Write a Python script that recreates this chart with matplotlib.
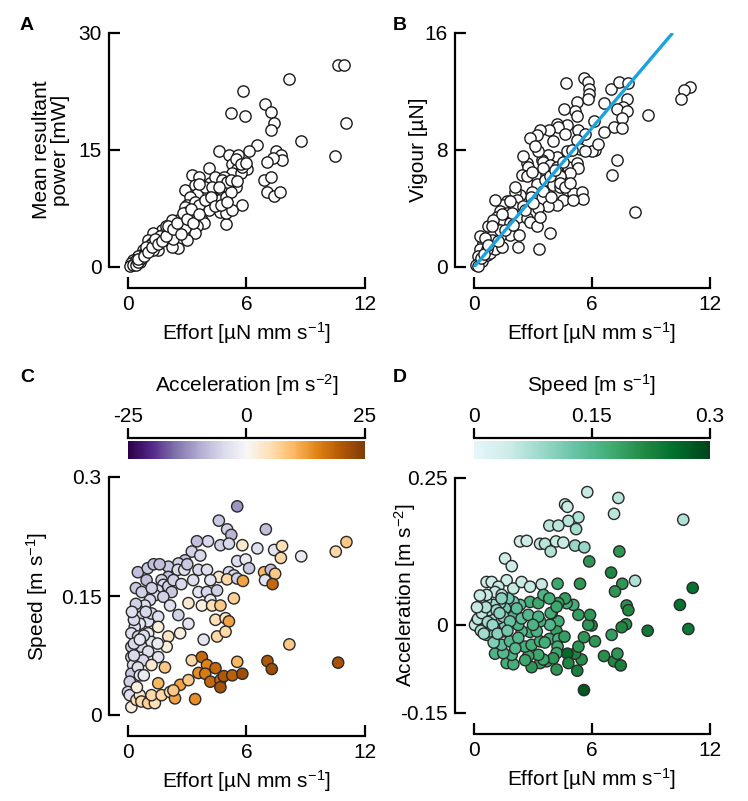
"""Effort vs power / vigour / speed / acceleration, four-panel scatter figure."""
import numpy as np
import matplotlib
matplotlib.use("Agg")
import matplotlib.pyplot as plt
from matplotlib.cm import ScalarMappable
from matplotlib.colors import Normalize, ListedColormap

FS = 15
plt.rcParams.update({
    "font.family": ["Liberation Sans", "DejaVu Sans"], "font.size": FS,
    "mathtext.fontset": "custom", "mathtext.rm": "Liberation Sans",
    "mathtext.default": "regular",
})

# ----- data -----
# A: effort [uN mm s-1] vs mean resultant power [mW]
effort_a = [10.64, 10.93, 8.15, 5.80, 6.94, 7.23, 5.23, 5.92, 11.06, 7.40,
            7.23, 8.77, 6.55, 6.13, 4.63, 5.11, 5.57, 10.5, 7.49, 7.74,
            7.80, 7.32, 7.06, 6.89, 7.23, 7.06, 7.40, 7.71, 5.75, 4.94,
            3.23, 3.57, 2.89, 4.12, 6.04, 5.28, 5.53, 5.28, 5.70, 5.36,
            5.45, 5.10, 4.77, 4.60, 4.17, 4.43, 4.85, 4.08, 3.83, 3.74,
            4.09, 4.51, 4.68, 4.94, 5.28, 3.40, 3.49, 3.15, 2.98, 3.40,
            3.32, 3.74, 3.83, 3.49, 3.40, 2.98, 3.15, 2.81, 2.55, 2.72,
            2.21, 2.13, 2.64, 2.55, 2.04, 2.21, 1.70, 1.87, 1.79, 1.28,
            1.45, 1.62, 1.02, 1.02, 1.53, 1.28, 0.77, 0.68, 0.51, 0.26,
            0.17, 0.09, 0.34, 0.43, 0.60, 0.85, 1.19, 2.04, 2.38, 2.89,
            3.15, 2.89, 3.74, 4.09, 4.34, 4.60, 4.94, 3.91, 3.57, 4.26,
            5.19, 5.79, 5.45, 5.70, 4.77, 5.02, 4.60, 0.26, 0.43, 0.51,
            1.10, 1.40, 1.90, 2.40, 0.90, 1.60, 2.30, 0.70, 3.00, 3.60,
            0.50, 0.80, 1.00, 1.20, 1.35, 1.50, 1.70, 1.90, 2.00, 2.30,
            2.50, 2.70, 2.80, 3.00, 3.20, 3.30, 3.60, 3.90, 4.20, 4.40,
            4.70, 5.00, 5.20, 5.50, 6.00]
power_a = [25.96, 25.96, 24.1, 22.5, 20.96, 19.9, 19.8, 19.3, 18.5, 18.45,
           17.5, 16.1, 15.6, 14.9, 14.9, 14.4, 14.4, 14.2, 14.9, 14.3,
           13.7, 14.0, 13.45, 11.1, 11.5, 9.6, 9.1, 9.6, 7.9, 5.5,
           11.75, 11.5, 9.9, 12.7, 12.6, 13.2, 12.6, 12.0, 12.0, 10.7,
           10.3, 9.85, 10.05, 9.4, 10.8, 11.5, 11.5, 9.4, 9.6, 8.35,
           8.15, 8.35, 7.1, 6.96, 7.3, 10.5, 9.4, 9.0, 7.9, 8.35,
           6.66, 6.0, 5.6, 5.26, 4.3, 3.5, 6.45, 6.45, 6.0, 5.6,
           6.0, 4.75, 4.75, 2.4, 3.5, 2.6, 4.75, 4.3, 3.7, 4.3,
           3.3, 3.5, 3.5, 2.4, 2.2, 2.2, 2.2, 1.6, 1.4, 0.93,
           0.5, 0.08, 0.5, 0.9, 0.7, 1.8, 3.05, 4.1, 4.3, 5.0,
           6.0, 7.7, 7.3, 7.3, 8.8, 8.6, 9.0, 10.3, 10.7, 10.3,
           9.6, 12.8, 13.9, 13.2, 11.1, 10.9, 10.3, 0.3, 0.3, 0.7,
           2.8, 2.9, 5.2, 5.3, 2.6, 4.0, 3.6, 1.1, 7.0, 8.0,
           1.0, 1.4, 1.9, 2.6, 3.6, 2.9, 3.3, 4.0, 5.2, 4.9,
           5.6, 4.2, 6.9, 6.2, 7.4, 5.7, 6.8, 8.6, 9.0, 7.8,
           8.0, 8.3, 11.2, 11.0, 13.3]

# B: effort vs vigour [uN], with fitted line
effort_b = [5.59, 5.81, 5.86, 5.86, 5.80, 4.68, 6.97, 7.37, 7.85, 7.80,
            7.59, 7.25, 7.76, 7.51, 7.12, 7.51, 6.61, 11.0, 10.68, 10.5,
            8.83, 6.10, 5.25, 5.14, 4.59, 5.22, 4.71, 4.20, 4.29, 3.83,
            3.36, 3.22, 2.85, 4.64, 5.31, 5.64, 5.22, 5.39, 6.15, 5.98,
            5.64, 4.71, 4.20, 3.78, 3.44, 3.27, 3.49, 3.86, 4.20, 4.80,
            5.22, 5.31, 4.88, 4.37, 7.25, 7.00, 2.68, 2.76, 3.10, 2.42,
            3.19, 3.61, 4.03, 4.37, 4.71, 5.05, 5.47, 5.56, 4.54, 4.20,
            3.78, 3.27, 2.93, 2.88, 2.34, 2.08, 2.17, 2.00, 1.66, 1.49,
            1.07, 1.32, 1.15, 1.66, 2.25, 2.68, 2.85, 3.19, 3.86, 3.32,
            2.25, 1.83, 1.32, 0.98, 0.73, 0.90, 0.47, 0.31, 0.22, 0.10,
            0.39, 0.64, 0.81, 1.07, 1.40, 1.15, 1.49, 1.83, 2.51, 1.92,
            0.98, 0.31, 0.56, 1.32, 3.36, 8.19, 0.22, 0.34, 0.64, 1.83,
            2.08, 2.68, 2.93, 3.53, 3.86, 4.37, 4.63, 4.88, 5.05, 0.50,
            0.70, 0.90, 1.20, 1.60, 1.40, 2.00, 2.30, 2.60, 3.00, 3.50,
            3.90, 4.10, 4.50, 3.10, 2.50, 4.00, 5.00, 6.30, 6.60]
vigour_b = [12.95, 12.66, 12.2, 11.8, 11.5, 12.55, 12.2, 12.66, 12.55, 11.5,
            10.95, 10.8, 10.7, 10.2, 9.6, 9.5, 9.25, 12.3, 12.1, 11.5,
            10.4, 10.0, 11.3, 10.7, 10.8, 10.3, 9.7, 9.8, 9.55, 9.35,
            9.35, 9.0, 8.8, 9.1, 9.35, 9.1, 8.7, 8.1, 8.0, 7.9,
            7.9, 7.95, 7.55, 7.66, 7.3, 7.9, 7.2, 7.0, 6.86, 6.86,
            7.1, 6.75, 6.4, 6.2, 7.3, 6.3, 7.1, 6.86, 6.3, 6.3,
            5.7, 5.95, 5.6, 5.5, 5.27, 5.05, 5.1, 4.64, 4.6, 4.25,
            4.14, 4.0, 5.16, 4.8, 4.93, 5.16, 4.6, 4.14, 4.48, 4.25,
            4.6, 3.8, 3.45, 3.7, 3.45, 3.34, 3.1, 2.77, 2.3, 1.23,
            1.4, 2.2, 2.1, 2.3, 2.77, 1.86, 1.64, 1.2, 0.73, 0.16,
            0.39, 0.84, 0.95, 1.2, 1.4, 3.0, 3.2, 3.0, 4.14, 3.7,
            3.2, 2.1, 2.0, 2.55, 3.45, 3.73, 0.05, 0.6, 1.2, 4.48,
            5.5, 6.2, 6.5, 6.75, 6.2, 5.73, 5.5, 5.73, 4.6, 0.9,
            1.5, 2.8, 1.8, 2.5, 3.6, 2.9, 2.2, 3.9, 4.4, 5.2,
            4.8, 6.6, 7.2, 8.3, 7.6, 8.6, 8.0, 8.4, 11.2]
fit_effort = [0.0, 10.1]
fit_vigour = [0.0, 16.0]

# C: effort vs speed [m s-1], coloured by acceleration
effort_c = [5.53, 4.60, 6.98, 5.02, 5.23, 4.05, 3.49, 4.68, 5.11, 5.79,
            6.55, 7.40, 7.80, 7.74, 8.77, 11.06, 10.52, 3.23, 3.66, 2.89,
            2.55, 2.04, 2.52, 2.85, 3.57, 4.00, 5.53, 5.96, 6.13, 5.11,
            5.36, 4.60, 5.02, 4.17, 5.53, 5.82, 6.89, 7.23, 7.45, 6.94,
            7.32, 2.04, 1.70, 0.94, 1.79, 2.04, 1.50, 2.21, 1.36, 1.79,
            1.11, 0.85, 3.57, 4.00, 4.51, 5.36, 4.17, 3.06, 3.74, 4.26,
            4.68, 2.13, 2.55, 3.06, 4.43, 4.94, 5.11, 2.64, 3.83, 4.51,
            4.94, 8.17, 0.51, 0.68, 1.02, 0.60, 1.19, 1.53, 0.34, 0.17,
            0.51, 1.02, 1.53, 2.04, 1.96, 1.19, 0.68, 0.17, 0.17, 1.02,
            1.53, 0.77, 0.26, 1.19, 1.87, 0.17, 0.09, 0.00, 0.09, 0.17,
            0.43, 0.60, 0.68, 1.02, 1.36, 1.19, 1.53, 1.70, 2.13, 2.38,
            2.64, 2.30, 3.06, 3.40, 3.23, 3.74, 4.00, 3.57, 3.91, 4.43,
            4.17, 4.68, 4.85, 4.68, 5.28, 5.79, 5.53, 7.06, 7.28, 10.64,
            0.30, 0.50, 0.40, 0.80, 0.30, 0.60, 0.20, 0.40, 0.70, 0.50,
            1.00, 1.30, 0.30, 0.60, 0.90, 1.20, 1.60, 0.80, 0.45, 1.50,
            2.30, 2.70, 3.00, 3.30]
speed_c = [0.263, 0.245, 0.234, 0.234, 0.227, 0.219, 0.219, 0.214, 0.216, 0.214,
           0.210, 0.208, 0.213, 0.198, 0.200, 0.218, 0.206, 0.206, 0.201, 0.195,
           0.191, 0.187, 0.183, 0.183, 0.183, 0.183, 0.194, 0.196, 0.185, 0.180,
           0.176, 0.174, 0.171, 0.170, 0.172, 0.169, 0.180, 0.183, 0.178, 0.170,
           0.165, 0.174, 0.170, 0.170, 0.164, 0.162, 0.157, 0.155, 0.151, 0.149,
           0.145, 0.138, 0.155, 0.155, 0.157, 0.147, 0.145, 0.141, 0.138, 0.138,
           0.138, 0.138, 0.126, 0.115, 0.120, 0.122, 0.118, 0.103, 0.095, 0.099,
           0.105, 0.089, 0.132, 0.124, 0.118, 0.115, 0.128, 0.124, 0.111, 0.103,
           0.099, 0.103, 0.111, 0.099, 0.086, 0.092, 0.086, 0.086, 0.073, 0.080,
           0.073, 0.069, 0.063, 0.063, 0.060, 0.052, 0.042, 0.029, 0.025, 0.010,
           0.019, 0.025, 0.017, 0.015, 0.015, 0.025, 0.040, 0.025, 0.029, 0.021,
           0.038, 0.031, 0.044, 0.020, 0.069, 0.073, 0.063, 0.053, 0.052, 0.059,
           0.042, 0.044, 0.049, 0.035, 0.050, 0.052, 0.067, 0.068, 0.058, 0.066,
           0.090, 0.060, 0.140, 0.100, 0.120, 0.050, 0.130, 0.160, 0.155, 0.180,
           0.185, 0.190, 0.075, 0.095, 0.130, 0.160, 0.190, 0.050, 0.035, 0.090,
           0.170, 0.165, 0.190, 0.170]
accel_c = [-12, -7, -8, -6, -9, -5, -8, -6, -5, 3,
           -4, -3, 5, 6, -2, 8, 6, -6, -5, -8,
           -6, -7, -5, -4, -5, -4, -4, -2, -7, -5,
           -5, 3, 6, -3, -6, 12, 10, -8, 8, -3,
           18, -8, -6, -8, -5, -6, -5, -7, -4, -6,
           -5, -4, -3, -5, -6, 7, -2, 3, 2, 5,
           8, -4, -6, -3, 5, 4, 12, 2, -3, 6,
           6, 8, -5, -4, -4, -3, -5, -4, -4, -4,
           -6, -2, 2, 4, 2, -3, -5, -6, -5, -4,
           -3, -5, -4, 3, 8, -7, -6, -5, -4, 2,
           5, 3, 6, 7, 5, 6, 10, 6, 6, 12,
           12, 8, 8, 14, 6, 18, 15, 14, 16, 18,
           18, 18, 20, 21, 19, 22, 10, 20, 22, 21,
           -5, -4, -6, -4, -5, -3, -4, -7, -6, -8,
           -7, -8, -5, -3, -5, -6, -8, -2, 2, -2,
           -6, -5, -7, -4]

# D: effort vs acceleration, coloured by speed
effort_d = [5.76, 7.34, 4.63, 4.75, 7.12, 10.64, 5.31, 4.80, 5.19, 3.83,
            4.29, 2.34, 2.68, 3.36, 3.61, 4.17, 4.54, 3.90, 5.14, 5.61,
            7.39, 5.86, 1.58, 1.92, 6.97, 7.54, 7.17, 8.19, 11.12, 10.47,
            10.90, 8.83, 7.76, 7.85, 7.73, 7.51, 7.00, 6.15, 6.61, 7.12,
            7.29, 7.46, 5.59, 5.25, 5.47, 5.14, 5.31, 5.59, 5.98, 5.81,
            5.90, 5.31, 5.05, 4.71, 4.63, 4.29, 4.25, 5.39, 4.29, 3.95,
            4.20, 3.86, 3.36, 3.83, 4.29, 4.25, 4.20, 4.75, 4.80, 4.20,
            3.70, 4.03, 3.36, 2.93, 3.53, 3.27, 2.76, 2.59, 2.93, 3.36,
            2.85, 3.19, 2.42, 2.25, 2.00, 2.42, 2.76, 3.27, 3.90, 4.20,
            2.85, 3.27, 2.34, 2.00, 2.17, 1.75, 1.58, 1.32, 0.98, 0.61,
            1.07, 1.66, 2.00, 1.92, 1.49, 1.41, 1.83, 2.25, 0.98, 0.64,
            0.81, 0.22, 0.14, 0.31, 0.47, 0.56, 1.15, 1.49, 1.58, 1.24,
            0.90, 1.49, 1.83, 0.73, 1.15, 0.64, 0.90, 1.66, 2.00, 1.24,
            1.07, 2.42, 2.85, 3.44, 0.64, 1.41, 3.53, 3.83, 0.05, 0.20,
            0.35, 0.40, 0.60, 0.50, 0.70, 0.95, 1.30, 1.00, 1.20, 1.70,
            1.40, 0.30, 0.15, 2.10, 2.60, 3.00, 3.60, 4.60]
accel_d = [0.226, 0.216, 0.205, 0.201, 0.189, 0.179, 0.183, 0.177, 0.163, 0.169,
           0.169, 0.142, 0.143, 0.138, 0.138, 0.142, 0.140, 0.125, 0.135, 0.132,
           0.125, 0.108, 0.113, 0.100, 0.089, 0.070, 0.057, 0.075, 0.063, 0.034,
           -0.007, -0.010, 0.033, 0.025, 0.001, -0.004, -0.017, -0.028, -0.053, -0.062,
           -0.049, -0.069, -0.111, -0.078, -0.059, -0.049, -0.037, -0.021, -0.001, 0.000,
           0.017, 0.017, 0.034, 0.037, 0.045, 0.037, 0.070, 0.070, 0.006, 0.020,
           -0.011, 0.000, 0.006, -0.024, -0.024, -0.037, -0.048, -0.049, -0.065, -0.076,
           -0.062, -0.057, -0.065, -0.072, -0.059, -0.051, -0.053, -0.037, -0.034, -0.028,
           -0.012, -0.011, -0.011, 0.000, 0.014, 0.011, 0.017, 0.014, 0.020, 0.031,
           0.039, 0.037, 0.034, 0.039, 0.028, 0.045, 0.028, 0.037, 0.034, 0.042,
           -0.049, -0.065, -0.067, -0.051, -0.048, -0.034, -0.028, -0.022, -0.020, -0.017,
           -0.011, -0.003, 0.006, 0.014, 0.003, -0.006, -0.003, -0.011, 0.000, 0.011,
           0.014, 0.014, 0.006, 0.025, 0.025, 0.073, 0.073, 0.076, 0.062, 0.065,
           0.056, 0.073, 0.065, 0.069, 0.051, 0.051, 0.051, 0.045, 0.000, 0.010,
           -0.010, 0.020, 0.030, -0.015, 0.005, 0.000, 0.020, -0.030, -0.015, -0.010,
           0.045, 0.050, 0.030, -0.040, -0.060, 0.000, -0.030, -0.020]
speed_d = [0.05, 0.06, 0.04, 0.05, 0.06, 0.07, 0.07, 0.06, 0.08, 0.06,
           0.06, 0.03, 0.04, 0.05, 0.06, 0.05, 0.05, 0.07, 0.09, 0.09,
           0.20, 0.20, 0.04, 0.04, 0.22, 0.20, 0.20, 0.07, 0.25, 0.25,
           0.24, 0.24, 0.21, 0.22, 0.21, 0.22, 0.19, 0.20, 0.21, 0.22,
           0.20, 0.23, 0.28, 0.23, 0.21, 0.22, 0.20, 0.20, 0.22, 0.20,
           0.20, 0.19, 0.17, 0.17, 0.19, 0.19, 0.18, 0.20, 0.17, 0.18,
           0.19, 0.15, 0.17, 0.17, 0.16, 0.17, 0.18, 0.26, 0.22, 0.20,
           0.19, 0.20, 0.19, 0.20, 0.18, 0.18, 0.18, 0.17, 0.17, 0.17,
           0.17, 0.16, 0.15, 0.16, 0.15, 0.14, 0.15, 0.16, 0.17, 0.18,
           0.17, 0.18, 0.14, 0.12, 0.14, 0.12, 0.12, 0.10, 0.08, 0.06,
           0.16, 0.17, 0.17, 0.16, 0.15, 0.14, 0.15, 0.15, 0.12, 0.10,
           0.10, 0.06, 0.05, 0.06, 0.07, 0.08, 0.10, 0.12, 0.11, 0.09,
           0.08, 0.10, 0.13, 0.07, 0.08, 0.04, 0.04, 0.04, 0.05, 0.05,
           0.05, 0.05, 0.05, 0.05, 0.05, 0.07, 0.16, 0.17, 0.05, 0.06,
           0.07, 0.06, 0.07, 0.08, 0.08, 0.09, 0.10, 0.11, 0.10, 0.12,
           0.10, 0.05, 0.05, 0.15, 0.18, 0.16, 0.17, 0.19]

# ----- layout (pixel boxes of the data regions on a 748x801 canvas) -----
W, H = 748, 801
fig = plt.figure(figsize=(W / 100, H / 100), dpi=100)


def box(x0, y_top, x1, y_bot):
    return [x0 / W, 1 - y_bot / H, (x1 - x0) / W, (y_bot - y_top) / H]


axA = fig.add_axes(box(128, 33, 365, 267))
axB = fig.add_axes(box(474, 33, 710, 267))
axC = fig.add_axes(box(128, 477, 365, 715))
axD = fig.add_axes(box(474, 478, 710, 713))
caxC = fig.add_axes(box(128, 441, 365, 459))
caxD = fig.add_axes(box(474, 441, 710, 459))

xlab = "Effort [µN mm s$^{-1}$]"


def style(ax, yt, ylabel, ylab_x, lab_off=14):
    for s in ("top", "right"):
        ax.spines[s].set_visible(False)
    ax.spines["left"].set_position(("outward", lab_off))
    ax.spines["bottom"].set_position(("outward", 15))
    for s in ("left", "bottom"):
        ax.spines[s].set_linewidth(1.6)
    ax.set_xlim(0, 12)
    ax.set_xticks([0, 6, 12], ["0", "6", "12"])
    ax.set_ylim(yt[0], yt[-1])
    ax.set_yticks(yt)
    ax.spines["bottom"].set_bounds(0, 12)
    ax.spines["left"].set_bounds(yt[0], yt[-1])
    ax.tick_params(direction="in", length=8, width=1.6, labelsize=FS, pad=5)
    ax.set_xlabel(xlab, fontsize=FS)
    ax.xaxis.set_label_coords(0.5, -0.225)
    ax.set_ylabel(ylabel, fontsize=FS, linespacing=1.0)
    ax.yaxis.set_label_coords(ylab_x, 0.5)


sc_kw = dict(s=66, linewidths=1.0, clip_on=False, zorder=3)

# A
axA.scatter(effort_a, power_a, facecolors="white", edgecolors="#1a1a1a", **sc_kw)
style(axA, [0, 15, 30], "Mean resultant\npower [mW]", -0.245)
axA.set_yticklabels(["0", "15", "30"])

# B
axB.scatter(effort_b, vigour_b, facecolors="white", edgecolors="#1a1a1a", **sc_kw)
axB.plot(fit_effort, fit_vigour, color="#1aa3df", lw=2.4, zorder=4,
         solid_capstyle="butt")
style(axB, [0, 8, 16], "Vigour [µN]", -0.195)

# C
cmapC = plt.get_cmap("PuOr_r")
normC = Normalize(-25, 25)
axC.scatter(effort_c, speed_c, c=accel_c, cmap=cmapC, norm=normC,
            edgecolors="#2a2a2a", **sc_kw)
style(axC, [0, 0.15, 0.3], "Speed [m s$^{-1}$]", -0.33)
axC.set_yticklabels(["0", "0.15", "0.3"])

# D  (BuGn with the near-white start trimmed off, as in the original)
cmapD = ListedColormap(plt.get_cmap("BuGn")(np.linspace(0.12, 1.0, 256)))
normD = Normalize(0, 0.3)
axD.scatter(effort_d, accel_d, c=speed_d, cmap=cmapD, norm=normD,
            edgecolors="#2a2a2a", **sc_kw)
style(axD, [-0.15, 0, 0.25], "Acceleration [m s$^{-2}$]", -0.237)
axD.set_yticklabels(["-0.15", "0", "0.25"])


def colorbar(cax, cmap, norm, ticks, labels, title):
    cb = fig.colorbar(ScalarMappable(norm=norm, cmap=cmap), cax=cax,
                      orientation="horizontal")
    cb.outline.set_visible(False)
    cax.spines["top"].set_visible(True)
    cax.spines["top"].set_linewidth(1.6)
    cax.spines["top"].set_position(("outward", 2))
    cax.xaxis.set_ticks_position("top")
    cb.set_ticks(ticks)
    cb.set_ticklabels(labels)
    cax.tick_params(axis="x", direction="out", length=7, width=1.6,
                    labelsize=FS, pad=2)
    pos = cax.get_position()
    fig.text(pos.x0 + pos.width / 2, 1 - 385 / H, title, ha="center",
             va="center", fontsize=FS)


colorbar(caxC, cmapC, normC, [-25, 0, 25], ["-25", "0", "25"],
         "Acceleration [m s$^{-2}$]")
colorbar(caxD, cmapD, normD, [0, 0.15, 0.3], ["0", "0.15", "0.3"],
         "Speed [m s$^{-1}$]")

for lab, (px, py) in zip("ABCD", [(27, 25), (400, 25), (27, 377), (400, 377)]):
    fig.text(px / W, 1 - py / H, lab, ha="center", va="center",
             fontsize=14, fontweight="bold")

fig.savefig("out.png", dpi=100)
